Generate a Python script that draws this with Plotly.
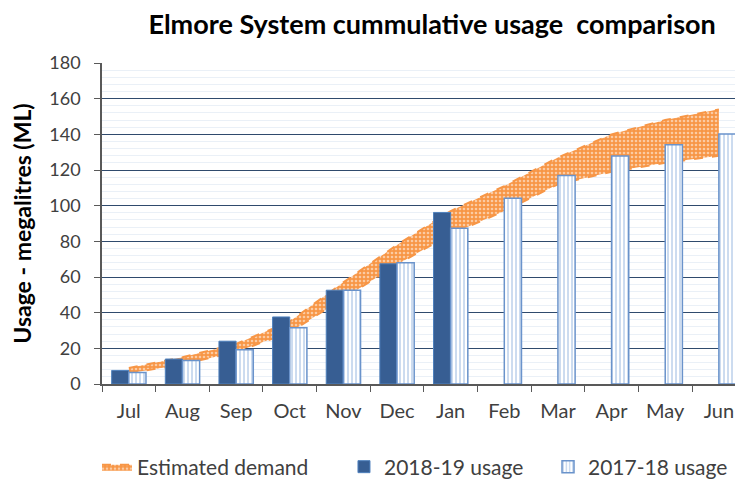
import plotly.graph_objects as go

months = ["Jul", "Aug", "Sep", "Oct", "Nov", "Dec", "Jan", "Feb", "Mar", "Apr", "May", "Jun"]
usage_2018_19 = [7.6, 14, 24, 37.6, 52.6, 67.4, 96.2, None, None, None, None, None]
usage_2017_18 = [6.5, 13.2, 19.2, 31.6, 52.6, 68, 87.3, 104.2, 116.9, 127.8, 134.1, 140.2]
demand_low = [6, 11, 18, 29, 48, 67, 84, 97, 112, 119, 124, 128]
demand_high = [9, 15, 22.5, 35, 57, 78, 97, 111, 127, 140, 148, 154]
y_ticks = [0, 20, 40, 60, 80, 100, 120, 140, 160, 180]

FONT = "Lato"
ORANGE = "#F79646"
DARK = "#375E93"
TXT = "#404040"

fig = go.Figure()

# Estimated demand band (base axes, drawn behind bars)
fig.add_trace(go.Scatter(
    x=months, y=demand_low, mode="lines",
    line=dict(color=ORANGE, width=2, dash="dash"),
    showlegend=False, hoverinfo="skip", xaxis="x", yaxis="y"))
fig.add_trace(go.Scatter(
    x=months, y=demand_high, mode="lines", fill="tonexty",
    name="Estimated demand", legend="legend",
    line=dict(color=ORANGE, width=2, dash="dash"),
    fillcolor=ORANGE,
    fillpattern=dict(shape=".", fgcolor="white", bgcolor=ORANGE, size=4, solidity=0.35),
    xaxis="x", yaxis="y"))

# Bars on overlay axes (drawn above band)
fig.add_trace(go.Bar(
    x=months, y=usage_2018_19, name="2018-19 usage", legend="legend2",
    marker=dict(color=DARK, line=dict(color="#4F81BD", width=1)),
    xaxis="x2", yaxis="y2"))
fig.add_trace(go.Bar(
    x=months, y=usage_2017_18, name="2017-18 usage", legend="legend3",
    marker=dict(color="white", line=dict(color="#6A93CB", width=1.5),
                pattern=dict(shape="|", fgcolor="#8DB0DD", bgcolor="white", size=4, solidity=0.45)),
    xaxis="x2", yaxis="y2"))

xr = [-0.5, 11.45]
leg_common = dict(orientation="h", xanchor="left", y=-0.2586, yanchor="middle",
                  font=dict(family=FONT, size=21, color=TXT), bgcolor="rgba(0,0,0,0)")
fig.update_layout(
    width=735, height=474,
    margin=dict(l=94, r=0, t=55, b=98, autoexpand=False),
    paper_bgcolor="white", plot_bgcolor="white",
    font=dict(family=FONT, size=18, color=TXT),
    barmode="group", bargap=0.36, bargroupgap=0,
    title=dict(text="<b>Elmore System cummulative usage  comparison</b>",
               font=dict(family=FONT, size=27, color="#000000"),
               x=0.515, xref="paper", xanchor="center", y=0.966, yref="container", yanchor="middle"),
    xaxis=dict(type="category", categoryarray=months, range=xr,
               showgrid=False, showline=True, linecolor="#595959", linewidth=1.5,
               ticks="outside", ticklen=6, tickcolor="#595959", tickson="boundaries",
               ticklabelstandoff=8, ticklabeloverflow="allow",
               tickfont=dict(family=FONT, size=20, color=TXT), fixedrange=True),
    yaxis=dict(range=[0, 180], tickvals=y_ticks,
               showgrid=True, gridcolor="#2F4A6D", gridwidth=1.3,
               minor=dict(dtick=4, showgrid=True, gridcolor="#EAF0F7", gridwidth=1),
               showline=True, linecolor="#595959", linewidth=1.5,
               ticks="outside", ticklen=6, tickcolor="#595959", ticklabelstandoff=10,
               tickfont=dict(family=FONT, size=18, color=TXT),
               title=dict(text="<b>Usage - megalitres (ML)</b>", standoff=14,
                          font=dict(family=FONT, size=23, color="#000000")),
               zeroline=False),
    xaxis2=dict(type="category", categoryarray=months, range=xr, overlaying="x",
                showgrid=False, showticklabels=False, showline=False, ticks=""),
    yaxis2=dict(range=[0, 180], overlaying="y", showgrid=False, showticklabels=False,
                showline=False, zeroline=False, ticks=""),
    legend=dict(x=-0.0078, **leg_common),
    legend2=dict(x=0.3775, **leg_common),
    legend3=dict(x=0.6958, **leg_common),
)

fig.write_html("out.html")
